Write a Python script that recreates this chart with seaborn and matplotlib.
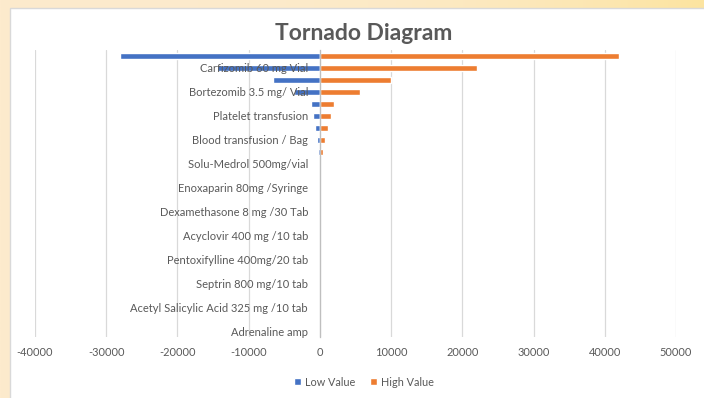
import numpy as np
import pandas as pd
import matplotlib
matplotlib.use("Agg")
import matplotlib.pyplot as plt
import seaborn as sns
from matplotlib.patches import Rectangle, Patch

# ---- data (top to bottom as drawn) ----
labels = ["", "Carfizomib 60 mg Vial", "", "Bortezomib 3.5 mg/ Vial", "",
          "Platelet transfusion", "", "Blood transfusion / Bag", "",
          "Solu-Medrol 500mg/vial", "", "Enoxaparin 80mg /Syringe", "",
          "Dexamethasone 8 mg /30 Tab", "", "Acyclovir 400 mg /10 tab", "",
          "Pentoxifylline 400mg/20 tab", "", "Septrin 800 mg/10 tab", "",
          "Acetyl Salicylic Acid 325 mg /10 tab", "", "Adrenaline amp"]
low_values = [-28000, -14500, -6600, -3700, -1300, -950, -680, -420, -200,
              0, 0, 0, 0, 0, 0, 0, 0, 0, 0, 0, 0, 0, 0, 0]
high_values = [42000, 22000, 10000, 5700, 2000, 1500, 1150, 780, 420,
               0, 0, 0, 0, 0, 0, 0, 0, 0, 0, 0, 0, 0, 0, 0]
series_names = ["Low Value", "High Value"]
x_ticks = [-40000, -30000, -20000, -10000, 0, 10000, 20000, 30000, 40000, 50000]

rows = []
for i, lab in enumerate(labels):
    rows.append({"pos": i, "value": low_values[i], "series": series_names[0]})
    rows.append({"pos": i, "value": high_values[i], "series": series_names[1]})
df = pd.DataFrame(rows)

sns.set_theme(style="white")
plt.rcParams["font.family"] = ["Lato", "DejaVu Sans"]

BLUE = "#4472C4"
ORANGE = "#ED7D31"
GRAY_TXT = "#595959"
GRID = "#D9D9D9"

fig = plt.figure(figsize=(7.04, 3.98), dpi=100)

# background gradient + white chart area
bg = fig.add_axes([0, 0, 1, 1], zorder=-10)
grad = np.linspace(0, 1, 256)
c1 = np.array([253, 235, 205]) / 255
c2 = np.array([252, 228, 160]) / 255
img = np.zeros((2, 256, 3))
for k in range(3):
    img[:, :, k] = c1[k] + (c2[k] - c1[k]) * grad ** 3
bg.imshow(img, aspect="auto", extent=[0, 1, 0, 1])
bg.set_xlim(0, 1); bg.set_ylim(0, 1)
bg.axis("off")
bg.add_patch(Rectangle((10 / 704, -0.01), 1, (398 - 8) / 398 + 0.01,
                       facecolor="white", edgecolor=GRID, linewidth=1.0))

ax = fig.add_axes([35 / 704, (398 - 337) / 398, 641 / 704, 287 / 398])
ax.set_facecolor("none")

sns.barplot(data=df, x="value", y="pos", hue="series", orient="h",
            palette=[BLUE, ORANGE], dodge=False, width=0.5,
            saturation=1, legend=False, ax=ax)

ax.set_xlim(-40000, 50000)
ax.set_ylim(23.5, -0.5)
ax.set_xticks(x_ticks)
ax.set_xticklabels([str(t) for t in x_ticks])
ax.set_yticks(range(len(labels)))
ax.set_yticklabels(labels)
ax.tick_params(axis="both", length=0, labelcolor=GRAY_TXT)
ax.tick_params(axis="x", pad=7, labelsize=7.9)
ax.tick_params(axis="y", pad=8.5, labelsize=8.0)
ax.set_xlabel("")
ax.set_ylabel("")

ax.grid(axis="x", color=GRID, linewidth=0.9)
ax.grid(axis="y", visible=False)
ax.set_axisbelow(True)
ax.yaxis.set_zorder(3)

for s in ["top", "right", "bottom"]:
    ax.spines[s].set_visible(False)
ax.spines["left"].set_position(("data", 0))
ax.spines["left"].set_color("#BFBFBF")
ax.spines["left"].set_linewidth(0.9)

fig.text(364 / 704, 1 - 33 / 398, "Tornado Diagram", ha="center", va="center",
         fontsize=16.5, fontweight="bold", color=GRAY_TXT)

handles = [Patch(facecolor=BLUE, label=series_names[0]),
           Patch(facecolor=ORANGE, label=series_names[1])]
leg = fig.legend(handles=handles, loc="center", bbox_to_anchor=(364 / 704, 1 - 382 / 398),
                 ncol=2, frameon=False, fontsize=7.8, handlelength=0.6, handleheight=0.6,
                 handletextpad=0.4, columnspacing=1.4)
for t in leg.get_texts():
    t.set_color(GRAY_TXT)

fig.savefig("out.png", dpi=100)
